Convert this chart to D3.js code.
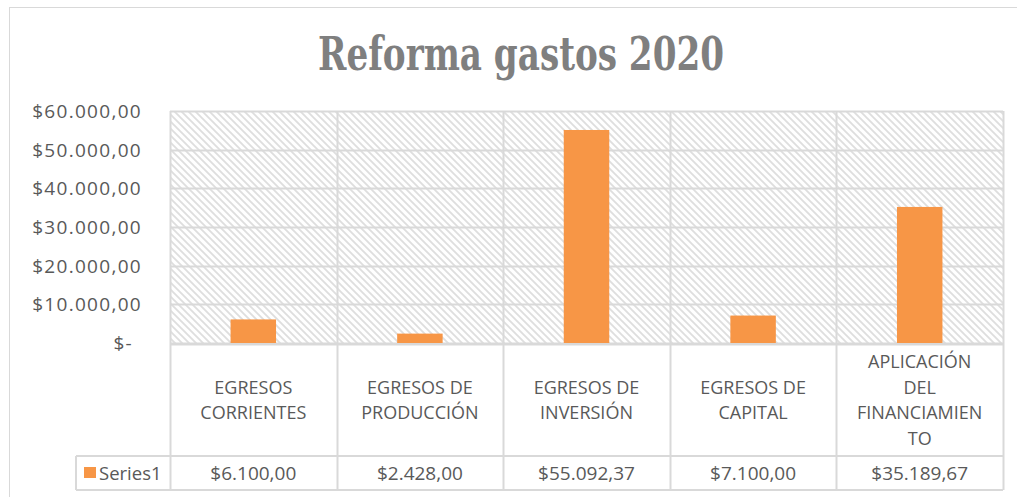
<!DOCTYPE html>
<html>
<head>
<meta charset="utf-8">
<script src="https://cdn.jsdelivr.net/npm/d3@7"></script>
<style>
  body { margin: 0; background: #fff; }
  svg { display: block; }
</style>
</head>
<body>
<svg></svg>
<script>
var categories = [
  ["EGRESOS", "CORRIENTES"],
  ["EGRESOS DE", "PRODUCCIÓN"],
  ["EGRESOS DE", "INVERSIÓN"],
  ["EGRESOS DE", "CAPITAL"],
  ["APLICACIÓN", "DEL", "FINANCIAMIEN", "TO"]
];
var values = [6100.00, 2428.00, 55092.37, 7100.00, 35189.67];
var valueLabels = ["$6.100,00", "$2.428,00", "$55.092,37", "$7.100,00", "$35.189,67"];
var yTicks = [0, 10000, 20000, 30000, 40000, 50000, 60000];
var yTickLabels = ["$-", "$10.000,00", "$20.000,00", "$30.000,00", "$40.000,00", "$50.000,00", "$60.000,00"];
var seriesName = "Series1";

var w = 1017, h = 497;
var plotL = 170, plotR = 1003, plotT = 111, zeroY = 343, rowY = 456, tableB = 490, legendX = 76;
var grid = "#d9d9d9", txt = "#595959", orange = "#F79646";

var svg = d3.select("svg").attr("width", w).attr("height", h);

var defs = svg.append("defs");
var pat = defs.append("pattern")
    .attr("id", "hatch")
    .attr("patternUnits", "userSpaceOnUse")
    .attr("width", 7).attr("height", 7);
pat.append("rect").attr("width", 7).attr("height", 7).attr("fill", "#fff");
pat.append("path")
    .attr("d", "M-2,-2 L9,9 M-2,5 L2,9 M5,-2 L9,2")
    .attr("stroke", "#dedede")
    .attr("stroke-width", 1.8);

// outer chart border
svg.append("rect")
    .attr("x", 9.5).attr("y", 7.5)
    .attr("width", 1030).attr("height", 520)
    .attr("fill", "none").attr("stroke", grid);

// title
svg.append("text")
    .attr("x", 521).attr("y", 70)
    .attr("text-anchor", "middle")
    .attr("font-family", "'DejaVu Serif Condensed', 'DejaVu Serif', 'Liberation Serif', serif")
    .attr("font-weight", "bold")
    .attr("font-size", 46)
    .attr("fill", "#7f7f7f")
    .attr("textLength", 406)
    .attr("lengthAdjust", "spacingAndGlyphs")
    .text("Reforma gastos 2020");

var x = d3.scaleBand()
    .domain(d3.range(categories.length))
    .range([plotL, plotR])
    .padding(0);

var y = d3.scaleLinear()
    .domain([0, 60000])
    .range([zeroY, plotT]);

// plot area hatch
svg.append("rect")
    .attr("x", plotL).attr("y", plotT)
    .attr("width", plotR - plotL).attr("height", zeroY - plotT)
    .attr("fill", "url(#hatch)");

// horizontal gridlines
svg.append("g")
    .selectAll("line")
    .data(yTicks)
    .enter().append("line")
    .attr("x1", plotL).attr("x2", plotR)
    .attr("y1", function(d) { return Math.round(y(d)) + 0.5; })
    .attr("y2", function(d) { return Math.round(y(d)) + 0.5; })
    .attr("stroke", grid).attr("stroke-width", 2);

// y tick labels
svg.append("g")
    .selectAll("text")
    .data(yTicks)
    .enter().append("text")
    .attr("x", function(d) { return d === 0 ? 133 : 142; })
    .attr("y", function(d) { return y(d) + 7; })
    .attr("text-anchor", "end")
    .attr("font-family", "'Open Sans', sans-serif")
    .attr("font-size", 19)
    .attr("letter-spacing", 1.3)
    .attr("fill", txt)
    .text(function(d, i) { return yTickLabels[i]; });

// bars
var barW = x.bandwidth() * 0.273;
svg.append("g")
    .selectAll("rect")
    .data(values)
    .enter().append("rect")
    .attr("x", function(d, i) { return x(i) + (x.bandwidth() - barW) / 2; })
    .attr("y", function(d) { return y(d); })
    .attr("width", barW)
    .attr("height", function(d) { return zeroY - y(d); })
    .attr("fill", orange);

// data table lines
var lines = svg.append("g").attr("stroke", grid).attr("stroke-width", 2);
var bounds = d3.range(categories.length).map(function(i) { return x(i); }).concat([plotR]);
lines.selectAll("line.v")
    .data(bounds)
    .enter().append("line")
    .attr("x1", function(d) { return Math.round(d) + 0.5; })
    .attr("x2", function(d) { return Math.round(d) + 0.5; })
    .attr("y1", plotT).attr("y2", tableB);
lines.append("line").attr("x1", plotL).attr("x2", plotR).attr("y1", zeroY + 1.5).attr("y2", zeroY + 1.5);
lines.append("line").attr("x1", legendX).attr("x2", plotR).attr("y1", rowY).attr("y2", rowY);
lines.append("line").attr("x1", legendX).attr("x2", plotR).attr("y1", tableB).attr("y2", tableB);
lines.append("line").attr("x1", legendX).attr("x2", legendX).attr("y1", rowY).attr("y2", tableB);

// category labels
var cat = svg.append("g")
    .selectAll("text")
    .data(categories)
    .enter().append("text")
    .attr("text-anchor", "middle")
    .attr("font-family", "'Open Sans', sans-serif")
    .attr("font-size", 18)
    .attr("fill", txt);
cat.each(function(lns, i) {
    var lh = 25.8;
    var cy = (zeroY + rowY) / 2 + 1;
    var y0 = cy - (lns.length - 1) * lh / 2 + 6;
    d3.select(this).selectAll("tspan")
        .data(lns)
        .enter().append("tspan")
        .attr("x", x(i) + x.bandwidth() / 2)
        .attr("y", function(d, j) { return y0 + j * lh; })
        .text(function(d) { return d; });
});

// value row
svg.append("g")
    .selectAll("text")
    .data(valueLabels)
    .enter().append("text")
    .attr("x", function(d, i) { return x(i) + x.bandwidth() / 2; })
    .attr("y", (rowY + tableB) / 2 + 7)
    .attr("text-anchor", "middle")
    .attr("font-family", "'Open Sans', sans-serif")
    .attr("font-size", 19)
    .attr("fill", txt)
    .text(function(d) { return d; });

// legend key
svg.append("rect")
    .attr("x", 84).attr("y", 467)
    .attr("width", 12).attr("height", 11)
    .attr("fill", orange);
svg.append("text")
    .attr("x", 99).attr("y", (rowY + tableB) / 2 + 7)
    .attr("font-family", "'Open Sans', sans-serif")
    .attr("font-size", 18.5)
    .attr("fill", txt)
    .text(seriesName);
</script>
</body>
</html>
